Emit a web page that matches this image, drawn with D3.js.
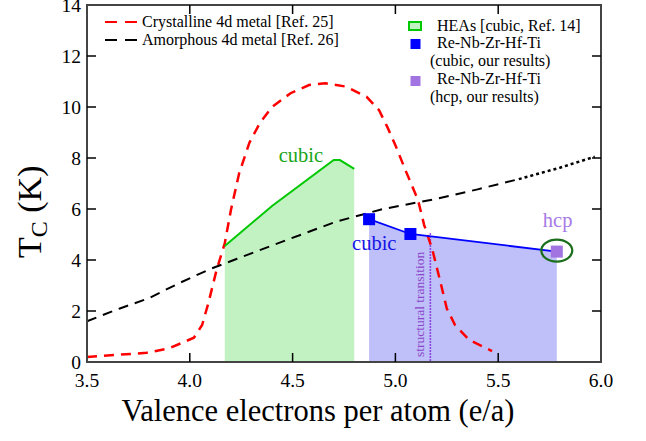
<!DOCTYPE html>
<html>
<head>
<meta charset="utf-8">
<script src="https://cdn.jsdelivr.net/npm/d3@7"></script>
<style>
  body { margin: 0; background: #fff; }
  svg { display: block; }
  svg text { font-family: "Liberation Serif", "Times New Roman", Times, "DejaVu Serif", serif; }
</style>
</head>
<body>
<div id="chart"></div>
<script>
// Tc vs e/a
const crystalline = [
  [3.5, 0.2], [3.63, 0.27], [3.79, 0.36], [3.9, 0.54], [4.02, 0.95],
  [4.06, 1.45], [4.09, 2.3], [4.13, 3.6], [4.17, 4.65], [4.2, 5.96],
  [4.24, 7.4], [4.29, 8.6], [4.34, 9.36], [4.4, 10.0], [4.49, 10.54],
  [4.58, 10.86], [4.66, 10.93], [4.76, 10.8], [4.86, 10.4], [4.92, 9.88],
  [4.96, 9.23], [5.0, 8.5], [5.05, 7.5], [5.11, 6.35], [5.14, 5.37],
  [5.18, 4.4], [5.22, 3.1], [5.25, 2.1], [5.29, 1.45], [5.36, 0.86], [5.47, 0.43]
];
const amorphous = [
  [3.5, 1.6], [3.66, 2.1], [3.8, 2.5], [3.95, 3.1], [4.1, 3.65], [4.23, 4.05],
  [4.47, 4.78], [4.71, 5.5], [4.94, 6.0], [5.2, 6.4], [5.4, 6.77], [5.6, 7.17],
  [5.8, 7.62], [5.97, 8.05]
];
const amorphousDottedFrom = 5.6;
const heaCubic = [[4.17, 4.55], [4.40, 6.12], [4.70, 7.92], [4.73, 7.92], [4.80, 7.57]];
const ourCubic = [[4.872, 5.6], [5.073, 5.02]];
const ourHcp = [[5.785, 4.33]];
const transitionX = 5.17;
const xTicks = [3.5, 4.0, 4.5, 5.0, 5.5, 6.0];
const yTicks = [0, 2, 4, 6, 8, 10, 12, 14];

const W = 646, H = 441;
const pl = 87, pr = 601, pt = 5, pb = 362;

const svg = d3.select("#chart").append("svg")
  .attr("width", W).attr("height", H);

const x = d3.scaleLinear().domain([3.5, 6.0]).range([pl, pr]);
const y = d3.scaleLinear().domain([0, 14]).range([pb, pt]);

const line = d3.line().x(d => x(d[0])).y(d => y(d[1]));
const area = d3.area().x(d => x(d[0])).y0(y(0)).y1(d => y(d[1]));

// fills
svg.append("path").datum(heaCubic).attr("d", area).attr("fill", "#c2f2c2");
const ours = ourCubic.concat(ourHcp);
svg.append("path").datum(ours).attr("d", area).attr("fill", "#bfbff9");

// structural transition
svg.append("line")
  .attr("x1", x(transitionX)).attr("x2", x(transitionX))
  .attr("y1", y(5.05)).attr("y2", y(0))
  .attr("stroke", "#7a1fd6").attr("stroke-width", 1.6)
  .attr("stroke-dasharray", "1.5,1.5");
svg.append("text")
  .attr("transform", `translate(${x(transitionX) - 6},${y(0) - 5}) rotate(-90)`)
  .attr("font-size", 13.5).attr("fill", "#8a45c8")
  .text("structural transition");

// reference curves
svg.append("path").datum(crystalline).attr("d", line)
  .attr("fill", "none").attr("stroke", "#ff0000").attr("stroke-width", 2.5)
  .attr("stroke-dasharray", "10,7");
svg.append("path").datum(amorphous.filter(d => d[0] <= amorphousDottedFrom)).attr("d", line)
  .attr("fill", "none").attr("stroke", "#000").attr("stroke-width", 2)
  .attr("stroke-dasharray", "10,7");
svg.append("path").datum(amorphous.filter(d => d[0] >= amorphousDottedFrom)).attr("d", line)
  .attr("fill", "none").attr("stroke", "#000").attr("stroke-width", 2.5)
  .attr("stroke-dasharray", "3,3");

// HEA line
svg.append("path").datum(heaCubic).attr("d", line)
  .attr("fill", "none").attr("stroke", "#00c800").attr("stroke-width", 2);

// our results
svg.append("path").datum(ours).attr("d", line)
  .attr("fill", "none").attr("stroke", "#0000ff").attr("stroke-width", 1.8);
svg.selectAll(".sq-cubic").data(ourCubic).enter().append("rect")
  .attr("x", d => x(d[0]) - 6).attr("y", d => y(d[1]) - 6)
  .attr("width", 12).attr("height", 12).attr("fill", "#0000ff");
svg.selectAll(".sq-hcp").data(ourHcp).enter().append("rect")
  .attr("x", d => x(d[0]) - 6).attr("y", d => y(d[1]) - 6)
  .attr("width", 12).attr("height", 12).attr("fill", "#a274e2");
svg.selectAll(".ring").data(ourHcp).enter().append("ellipse")
  .attr("cx", d => x(d[0])).attr("cy", d => y(d[1]) - 1)
  .attr("rx", 15.5).attr("ry", 11)
  .attr("fill", "none").attr("stroke", "#1b6e1b").attr("stroke-width", 2.2);

// labels in the plot
svg.append("text").attr("x", x(4.70) - 55).attr("y", y(7.92) + 2)
  .attr("font-size", 20.5).attr("fill", "#1aa51a").text("cubic");
svg.append("text").attr("x", x(ourCubic[0][0]) - 17).attr("y", y(ourCubic[0][1]) + 31)
  .attr("font-size", 20.5).attr("fill", "#1414e6").text("cubic");
svg.append("text").attr("x", x(ourHcp[0][0]) - 14).attr("y", y(ourHcp[0][1]) - 25)
  .attr("font-size", 20.5).attr("fill", "#a77ae6").text("hcp");

// frame
svg.append("rect").attr("x", pl).attr("y", pt)
  .attr("width", pr - pl).attr("height", pb - pt)
  .attr("fill", "none").attr("stroke", "#444").attr("stroke-width", 2);

// ticks (inward, all four sides)
const tk = 9;
const ticks = svg.append("g").attr("stroke", "#000").attr("stroke-width", 1.5);
xTicks.slice(1, -1).forEach(t => {
  ticks.append("line").attr("x1", x(t)).attr("x2", x(t)).attr("y1", pb).attr("y2", pb - tk);
  ticks.append("line").attr("x1", x(t)).attr("x2", x(t)).attr("y1", pt).attr("y2", pt + tk);
});
yTicks.slice(1, -1).forEach(t => {
  ticks.append("line").attr("x1", pl).attr("x2", pl + tk).attr("y1", y(t)).attr("y2", y(t));
  ticks.append("line").attr("x1", pr).attr("x2", pr - tk).attr("y1", y(t)).attr("y2", y(t));
});

// tick labels
svg.selectAll(".xl").data(xTicks).enter().append("text")
  .attr("x", d => x(d)).attr("y", pb + 25)
  .attr("text-anchor", "middle").attr("font-size", 19.5)
  .text(d => d3.format(".1f")(d));
svg.selectAll(".yl").data(yTicks).enter().append("text")
  .attr("x", pl - 6).attr("y", d => y(d)).attr("dy", "0.35em")
  .attr("text-anchor", "end").attr("font-size", 19.5)
  .text(d => d);

// axis titles
svg.append("text").attr("x", 318).attr("y", 421)
  .attr("text-anchor", "middle").attr("font-size", 30.5)
  .text("Valence electrons per atom (e/a)");
const yt = svg.append("text")
  .attr("transform", "translate(41,258) rotate(-90)")
  .attr("font-size", 34);
yt.append("tspan").text("T");
yt.append("tspan").attr("font-size", 24).attr("dy", 6).text("C");
yt.append("tspan").attr("dy", -6).text(" (K)");

// legend, left
const legL = [
  {label: "Crystalline 4d metal [Ref. 25]", color: "#ff0000", y: 22},
  {label: "Amorphous 4d metal [Ref. 26]", color: "#000", y: 40}
];
legL.forEach(d => {
  svg.append("line").attr("x1", 105).attr("x2", 137).attr("y1", d.y).attr("y2", d.y)
    .attr("stroke", d.color).attr("stroke-width", 2).attr("stroke-dasharray", "12,8");
  svg.append("text").attr("x", 142).attr("y", d.y + 5).attr("font-size", 16).text(d.label);
});

// legend, right
const fsR = 16;
svg.append("rect").attr("x", 409).attr("y", 22).attr("width", 12).attr("height", 8)
  .attr("fill", "#c2f2c2").attr("stroke", "#00c800").attr("stroke-width", 2);
svg.append("text").attr("x", 437).attr("y", 30.5).attr("font-size", fsR).text("HEAs [cubic, Ref. 14]");
svg.append("rect").attr("x", 410.5).attr("y", 39).attr("width", 10).attr("height", 10).attr("fill", "#0000ff");
svg.append("text").attr("x", 437).attr("y", 47.5).attr("font-size", fsR).text("Re-Nb-Zr-Hf-Ti");
svg.append("text").attr("x", 430).attr("y", 65.5).attr("font-size", fsR).text("(cubic, our results)");
svg.append("rect").attr("x", 410.5).attr("y", 76).attr("width", 10).attr("height", 10).attr("fill", "#a274e2");
svg.append("text").attr("x", 437).attr("y", 83.5).attr("font-size", fsR).text("Re-Nb-Zr-Hf-Ti");
svg.append("text").attr("x", 430).attr("y", 101.5).attr("font-size", fsR).text("(hcp, our results)");
</script>
</body>
</html>
